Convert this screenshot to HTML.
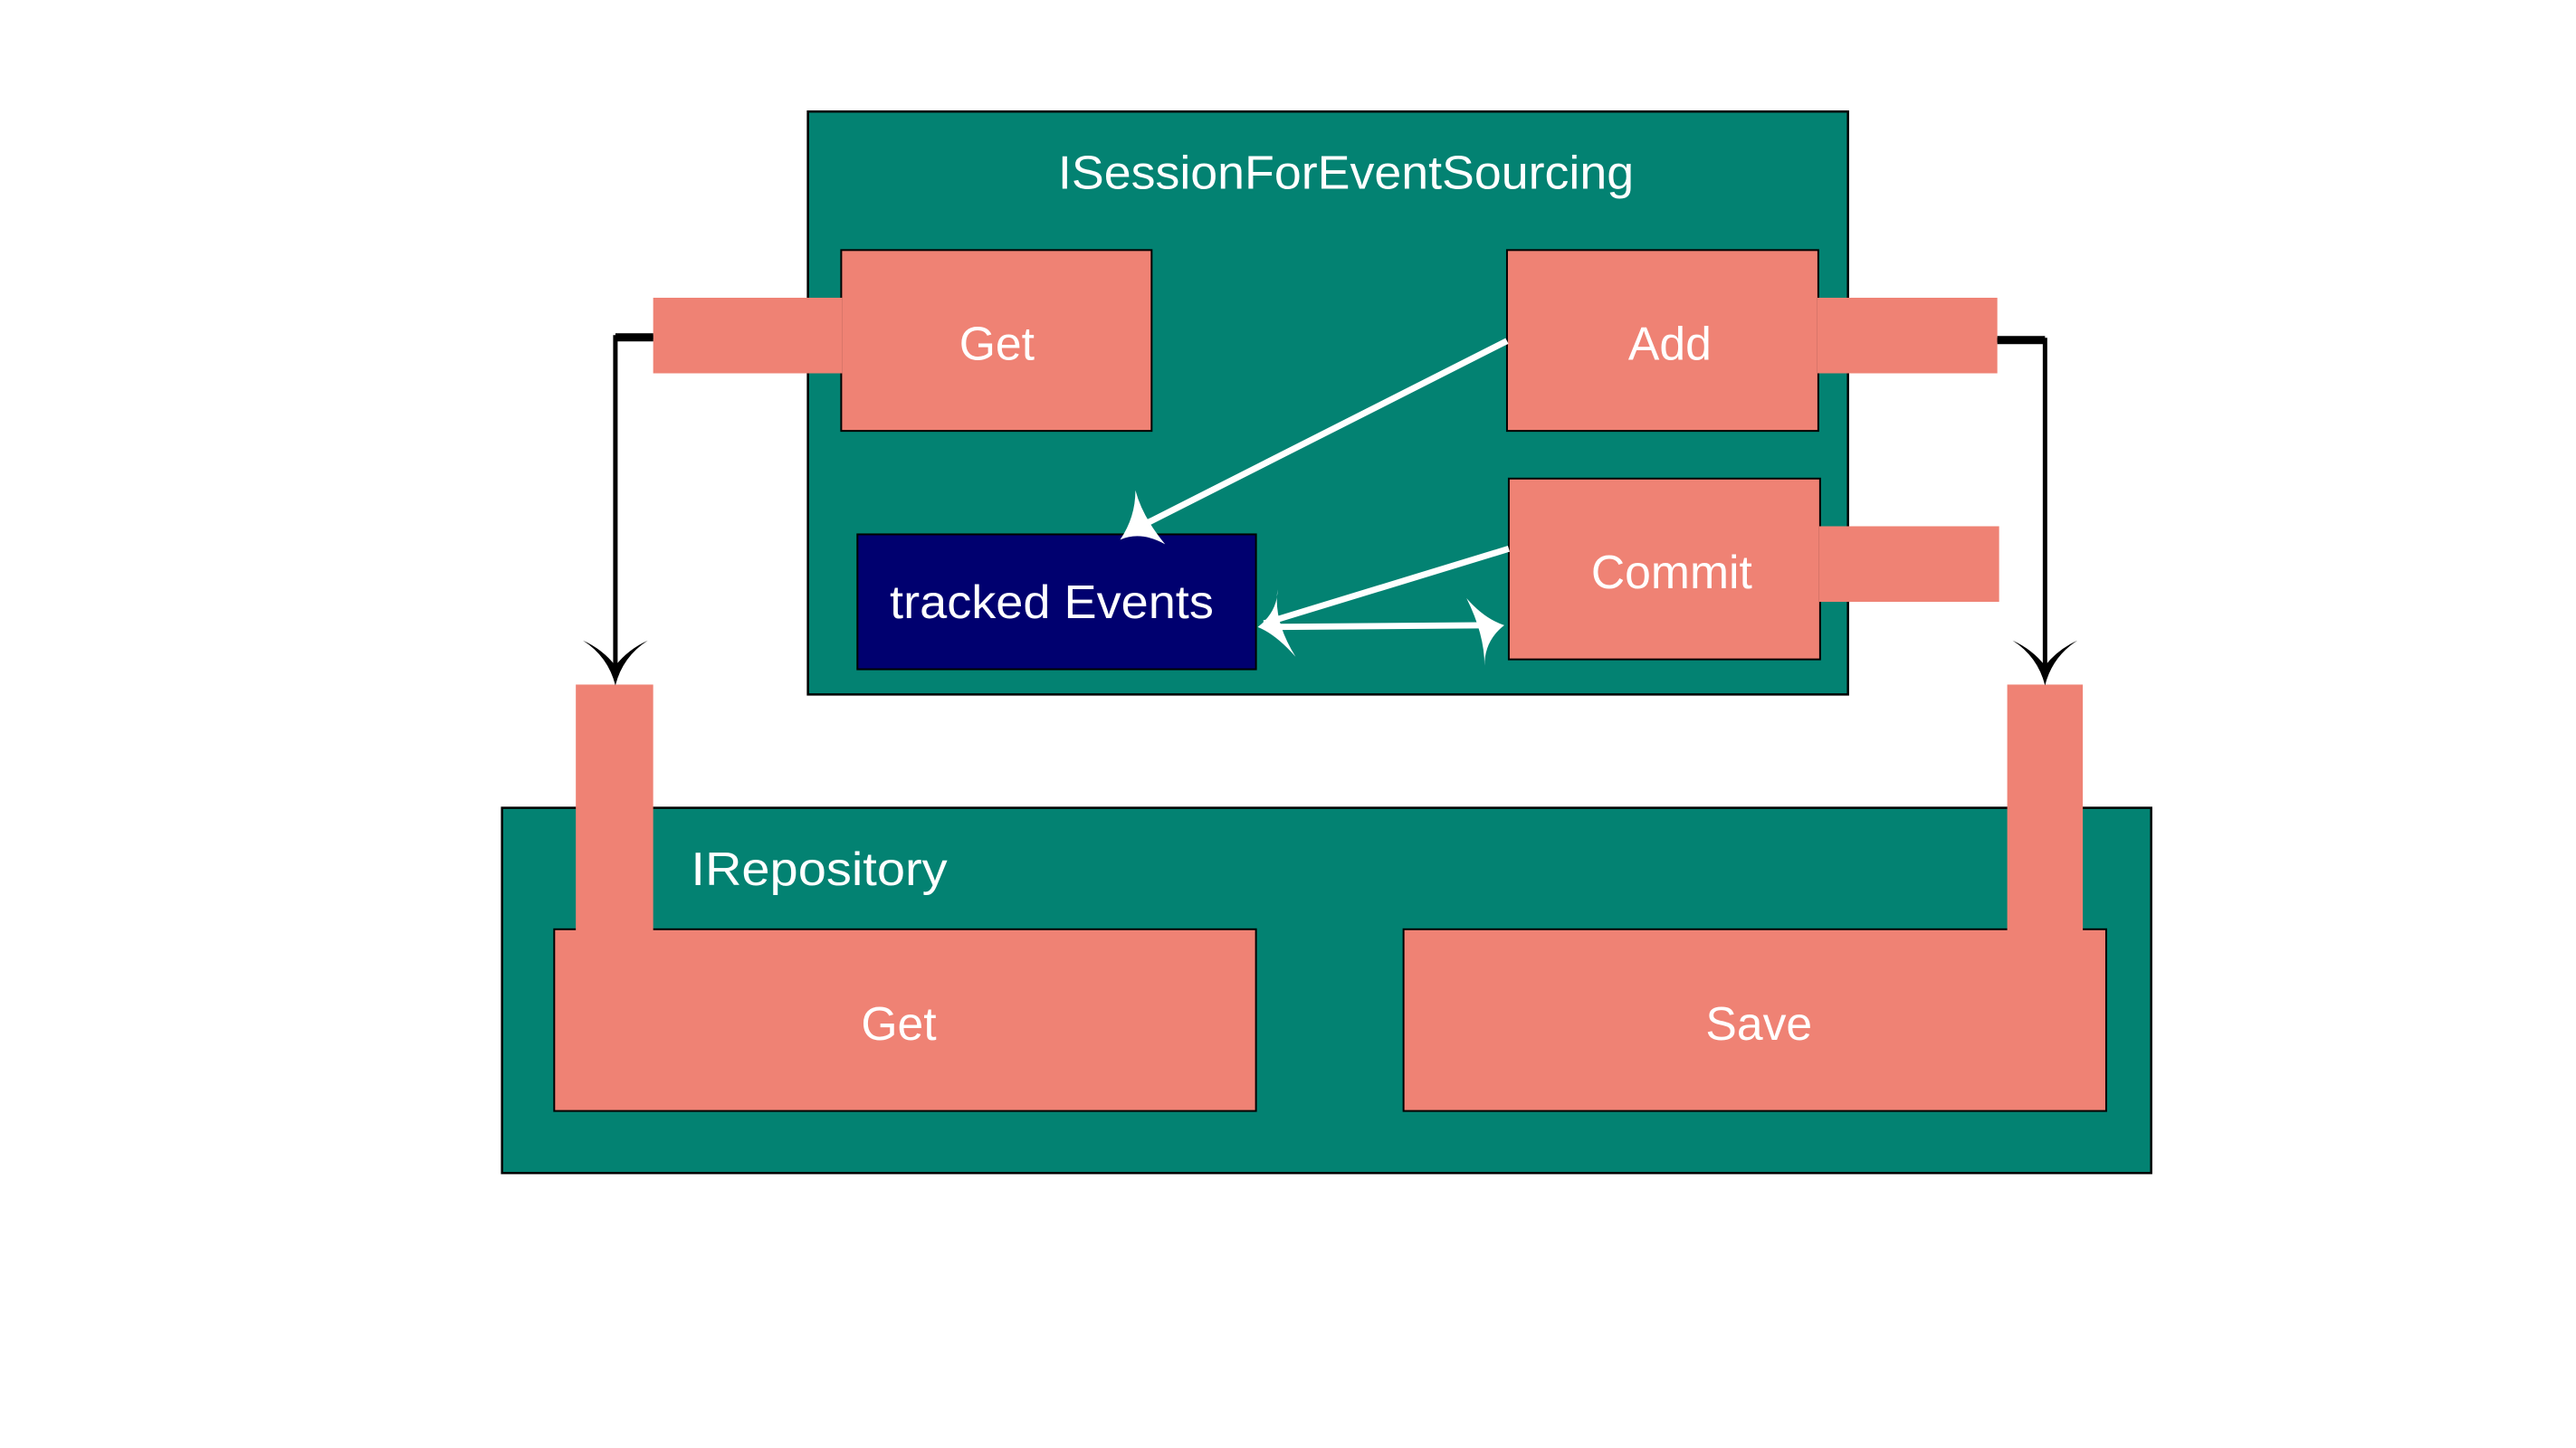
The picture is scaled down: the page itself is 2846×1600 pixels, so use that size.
<!DOCTYPE html>
<html><head><meta charset="utf-8"><style>html,body{margin:0;padding:0;background:#fff}svg{display:block}</style></head>
<body>
<svg width="2846" height="1600" viewBox="0 0 2846 1600" xmlns="http://www.w3.org/2000/svg" font-family="'Liberation Sans', sans-serif">
<rect width="2846" height="1600" fill="#fff"/>
<g transform="scale(0.994)">
<!-- top container -->
<rect x="898" y="124" width="1156" height="648" fill="#038272" stroke="#000" stroke-width="2.5"/>
<text x="1496" y="210" fill="#fff" font-size="52" text-anchor="middle" textLength="640" lengthAdjust="spacingAndGlyphs">ISessionForEventSourcing</text>
<!-- Get -->
<rect x="935" y="278" width="345" height="201" fill="#ef8274" stroke="#000" stroke-width="2"/>
<rect x="726" y="331" width="210" height="84" fill="#ef8274"/>
<text x="1108" y="400" fill="#fff" font-size="52" text-anchor="middle">Get</text>
<!-- Add -->
<rect x="1675" y="278" width="346" height="201" fill="#ef8274" stroke="#000" stroke-width="2"/>
<rect x="2020" y="331" width="200" height="84" fill="#ef8274"/>
<text x="1856" y="400" fill="#fff" font-size="52" text-anchor="middle">Add</text>
<!-- Commit -->
<rect x="1677" y="532" width="346" height="201" fill="#ef8274" stroke="#000" stroke-width="2"/>
<rect x="2022" y="585" width="200" height="84" fill="#ef8274"/>
<text x="1858" y="654" fill="#fff" font-size="52" text-anchor="middle">Commit</text>
<!-- tracked events -->
<rect x="953" y="594" width="443" height="150" fill="#00006f" stroke="#000" stroke-width="2"/>
<text x="1169" y="687" fill="#fff" font-size="52" text-anchor="middle" textLength="360" lengthAdjust="spacingAndGlyphs">tracked Events</text>
<!-- white arrows -->
<g stroke="#fff" stroke-width="7" fill="none">
<line x1="1675" y1="379" x2="1262" y2="588"/>
<line x1="1677" y1="610" x2="1405" y2="693"/>
<line x1="1405" y1="697" x2="1660" y2="695"/>
</g>
<g fill="#fff">
<path d="M1245 600 Q1262 575 1262 545 Q1270 575 1295 605 Q1268 590 1245 600 Z"/>
<path d="M1398 697 Q1420 680 1420 655 Q1415 690 1440 730 Q1418 705 1398 697 Z"/>
<path d="M1672 695 Q1650 712 1650 740 Q1650 705 1630 665 Q1650 688 1672 695 Z"/>
</g>
<!-- lower container -->
<rect x="558" y="898" width="1833" height="406" fill="#038272" stroke="#000" stroke-width="2.5"/>
<text x="768" y="984" fill="#fff" font-size="52" textLength="285" lengthAdjust="spacingAndGlyphs">IRepository</text>
<rect x="616" y="1033" width="780" height="202" fill="#ef8274" stroke="#000" stroke-width="2"/>
<text x="999" y="1156" fill="#fff" font-size="52" text-anchor="middle">Get</text>
<rect x="1560" y="1033" width="781" height="202" fill="#ef8274" stroke="#000" stroke-width="2"/>
<text x="1955" y="1156" fill="#fff" font-size="52" text-anchor="middle">Save</text>
<rect x="640" y="761" width="86" height="274" fill="#ef8274"/>
<rect x="2231" y="761" width="84" height="274" fill="#ef8274"/>
<!-- black connectors -->
<g stroke="#000" stroke-width="5" fill="none">
<polyline points="726,375 684,375 684,740"/>
<polyline points="2220,378 2273,378 2273,740"/>
</g>
<g stroke="#000" stroke-width="9" fill="none">
<line x1="684" y1="375" x2="726" y2="375"/>
<line x1="2220" y1="378" x2="2273" y2="378"/>
</g>
<g fill="#000">
<path d="M684 762 Q676 730 648 712 Q670 722 684 740 Q698 722 720 712 Q692 730 684 762 Z"/>
<path d="M2273 762 Q2265 730 2237 712 Q2259 722 2273 740 Q2287 722 2309 712 Q2281 730 2273 762 Z"/>
</g>
</g>
</svg>
</body></html>
